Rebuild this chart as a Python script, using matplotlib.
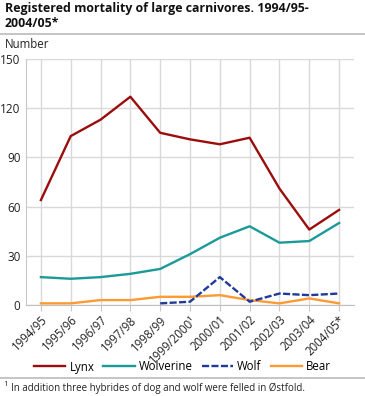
import matplotlib
matplotlib.use("Agg")
import matplotlib.pyplot as plt
import numpy as np

plt.rcParams['font.family'] = ['Open Sans', 'DejaVu Sans']

categories = ["1994/95", "1995/96", "1996/97", "1997/98", "1998/99", "1999/2000¹",
              "2000/01", "2001/02", "2002/03", "2003/04", "2004/05*"]
lynx = [64, 103, 113, 127, 105, 101, 98, 102, 71, 46, 58]
wolverine = [17, 16, 17, 19, 22, 31, 41, 48, 38, 39, 50]
wolf = [np.nan, np.nan, np.nan, np.nan, 1, 2, 17, 2, 7, 6, 7]
bear = [1, 1, 3, 3, 5, 5, 6, 3, 1, 4, 1]
yticks = [0, 30, 60, 90, 120, 150]

W, H = 365, 396
fig = plt.figure(figsize=(W/100, H/100), dpi=100)
ax = fig.add_axes([26/W, 1-305/H, (354-26)/W, (305-59)/H])

x = np.arange(len(categories))
ax.plot(x, lynx, color='#9b0d0d', lw=1.7, label='Lynx', zorder=3)
ax.plot(x, wolverine, color='#1a9a98', lw=1.7, label='Wolverine', zorder=3)
ax.plot(x, wolf, color='#1f3a9a', lw=1.7, ls=(0, (3, 1)), label='Wolf', zorder=4)
ax.plot(x, bear, color='#ff9a33', lw=1.7, label='Bear', zorder=3)

ax.set_xlim(-0.5, len(categories) - 0.5)
ax.set_ylim(0, 150)
ax.set_yticks(yticks)
ax.set_xticks(x)
ax.set_xticklabels(categories, rotation=45, ha='right', rotation_mode='anchor', fontsize=8.3, color='#222222')
ax.tick_params(axis='y', length=0, labelsize=8.5, pad=4, labelcolor='#222222')
ax.tick_params(axis='x', length=4, color='#c8c8c8', pad=2)
ax.grid(True, color='#d9d9d9', lw=1)
ax.set_axisbelow(True)
for s in ['top', 'right']:
    ax.spines[s].set_visible(False)
ax.spines['left'].set_color('#c8c8c8')
ax.spines['bottom'].set_color('#c0c0c0')

fig.text(5/W, 1-2/H, "Registered mortality of large carnivores. 1994/95-\n2004/05*",
         fontsize=8.9, fontweight='bold', va='top', ha='left', linespacing=1.2, color='#111111')
fig.lines.append(plt.Line2D([0, 1], [1-34/H, 1-34/H], color='#bbbbbb', lw=1.2, transform=fig.transFigure))
fig.text(5/W, 1-44/H, "Number", fontsize=8.3, va='center', ha='left', color='#222222')

leg = fig.legend(loc='center', bbox_to_anchor=(0.5, 1-367/H), ncol=4, frameon=False,
                 fontsize=8.3, handlelength=2.7, columnspacing=0.8, handletextpad=0.35)

fig.lines.append(plt.Line2D([0, 1], [1-378/H, 1-378/H], color='#bbbbbb', lw=1.2, transform=fig.transFigure))
fig.text(3/W, 1-385/H, "1", fontsize=5.5, va='center', ha='left', color='#222222')
fig.text(11/W, 1-388/H, "In addition three hybrides of dog and wolf were felled in Østfold.",
         fontsize=7, va='center', ha='left', color='#222222')

fig.savefig("out.png", dpi=100)
